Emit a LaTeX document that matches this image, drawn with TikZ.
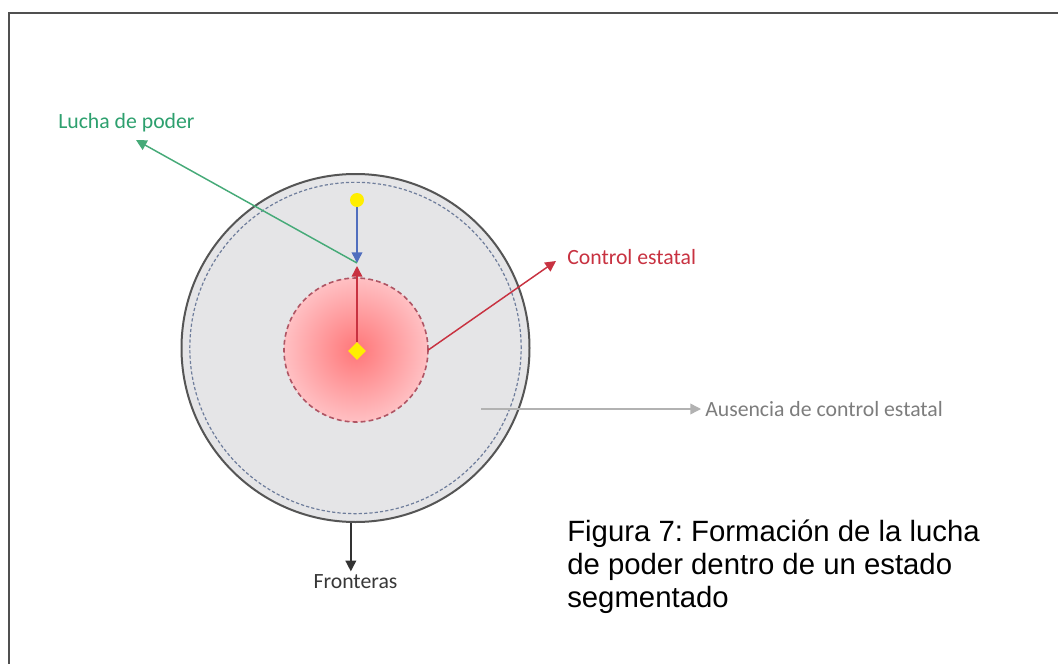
\documentclass[tikz,border=0pt]{standalone}
\usepackage{fontspec}
\setmainfont{Carlito}
\newfontfamily\capfont{Liberation Sans}
\usetikzlibrary{shapes.geometric,arrows.meta}
\frenchspacing
\definecolor{outerfill}{RGB}{229,229,231}
\definecolor{outerdraw}{RGB}{85,85,85}
\definecolor{ringcol}{RGB}{110,125,155}
\definecolor{innerdraw}{RGB}{175,85,100}
\definecolor{pinkin}{RGB}{255,118,120}
\definecolor{pinkout}{RGB}{255,192,195}
\definecolor{sunyellow}{RGB}{255,238,0}
\definecolor{bluearr}{RGB}{80,110,190}
\definecolor{greenln}{RGB}{70,170,120}
\definecolor{greentx}{RGB}{45,160,110}
\definecolor{redarr}{RGB}{200,50,65}
\definecolor{grayln}{RGB}{178,178,178}
\definecolor{graytx}{RGB}{125,125,125}
\definecolor{framecol}{RGB}{80,80,80}
\begin{document}
\begin{tikzpicture}[x=0.75pt,y=-0.75pt,
  tip/.style={-{Triangle[length=8pt,width=8pt]}},
  conn/.style={tip,line width=1.1pt},
  lbl/.style={font=\fontsize{16.3}{19}\selectfont,inner sep=0pt},
]
\useasboundingbox (0,0) rectangle (1058,664);
\fill[white] (0,0) rectangle (1058,664);
% frame
\draw[framecol,line width=1.5pt] (9,664) -- (9,13) -- (1058,13);
% circles
\node[circle,draw=outerdraw,fill=outerfill,line width=1.5pt,minimum size=261pt,inner sep=0pt] (outer) at (355.5,348) {};
\node[circle,draw=ringcol,dash pattern=on 2.4pt off 1.6pt,line width=0.9pt,minimum size=248.5pt,inner sep=0pt] (ring) at (355.5,348) {};
\node[circle,inner color=pinkin,outer color=pinkout,minimum size=108pt,inner sep=0pt] (inner) at (356,350) {};
\draw[innerdraw,dash pattern=on 3.6pt off 2.4pt,line width=1.2pt] (inner.center) circle[radius=54pt];
% yellow markers
\node[circle,fill=sunyellow,minimum size=10.5pt,inner sep=0pt] (sun) at (357,200) {};
\node[diamond,fill=sunyellow,minimum size=13.5pt,inner sep=0pt] (dia) at (357,351) {};
\coordinate (junB) at (357,263);
\coordinate (junR) at (357,266);
% labels
\node[lbl,text=greentx,anchor=west] (lucha) at (58,123) {Lucha de poder};
\node[lbl,text=redarr,anchor=west] (ctrl) at (567,257) {Control estatal};
\node[lbl,text=graytx,anchor=west] (aus) at (705,409) {Ausencia de control estatal};
\node[lbl,text=black!78,anchor=north] (fr) at (355.5,574) {Fronteras};
\coordinate (greenend) at (136,140);
\coordinate (redend) at (556,261);
\coordinate (grayst) at (481,409);
% connectors
\draw[conn,bluearr] (sun) -- (junB);
\draw[conn,redarr] (dia) -- (junR);
\draw[conn,greenln] (junB) -- (greenend);
\draw[conn,redarr] (inner.east) -- (redend);
\draw[conn,grayln] (grayst) -- ([xshift=-3pt]aus.west);
\draw[conn,black!80] ([xshift=-3.5pt]outer.south) -- ([xshift=-3.5pt,yshift=2pt]fr.north);
% caption
\node[anchor=base west,align=left,inner sep=0pt,font=\capfont\fontsize{22}{24.75}\selectfont] (cap) at (567,607)
  {Figura 7: Formación de la lucha\\de poder dentro de un estado\\segmentado};
\end{tikzpicture}
\end{document}
